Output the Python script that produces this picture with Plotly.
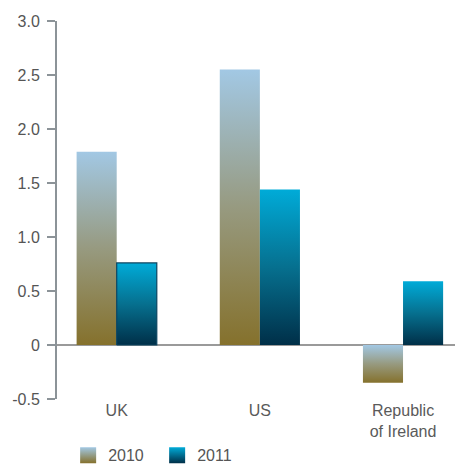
import plotly.graph_objects as go

categories = ["UK", "US", "Republic<br>of Ireland"]
series_names = ["2010", "2011"]
values_2010 = [1.79, 2.55, -0.35]
values_2011 = [0.76, 1.44, 0.59]
y_ticks = [-0.5, 0, 0.5, 1.0, 1.5, 2.0, 2.5, 3.0]
y_tick_labels = ["-0.5", "0", "0.5", "1.0", "1.5", "2.0", "2.5", "3.0"]

series_values = [values_2010, values_2011]
gradients = [
    [[0, "#85712c"], [0.5, "#979a80"], [1, "#a2c8e4"]],
    [[0, "#002f48"], [0.5, "#06708f"], [1, "#00abd8"]],
]
offsets = [-0.14, 0.14]
bar_w = 0.28

fig = go.Figure()
for s, (name, vals) in enumerate(zip(series_names, series_values)):
    for i, v in enumerate(vals):
        xc = i + offsets[s]
        x0, x1 = xc - bar_w / 2, xc + bar_w / 2
        outlined = (s == 1 and i == 0)
        fig.add_trace(go.Scatter(
            x=[x0, x1, x1, x0, x0],
            y=[0, 0, v, v, 0],
            mode="lines",
            fill="toself",
            fillgradient=dict(type="vertical", colorscale=gradients[s]),
            line=dict(width=1.2 if outlined else 0, color="#0b4460"),
            name=name,
            legendgroup=name,
            showlegend=False,
            hoverinfo="skip",
        ))
    # legend entry
    fig.add_trace(go.Scatter(
        x=[None], y=[None], mode="markers", name=name, legendgroup=name,
        marker=dict(symbol="square", size=18, color=gradients[s][2][1],
                    gradient=dict(type="vertical", color=gradients[s][0][1]),
                    line=dict(width=0)),
        showlegend=True,
    ))

fig.update_layout(
    width=455, height=464,
    margin=dict(l=57, r=0, t=21, b=65, autoexpand=False),
    plot_bgcolor="white", paper_bgcolor="white",
    font=dict(family="Liberation Sans, Arial, sans-serif", size=16, color="#555555"),
    showlegend=True,
    legend=dict(orientation="h", x=0.028, y=-0.104, xanchor="left", yanchor="top",
                font=dict(size=16, color="#555555"), entrywidth=44,
                itemsizing="trace"),
    xaxis=dict(range=[-0.417, 2.363], tickvals=[0, 1, 2], ticktext=categories,
               showgrid=False, zeroline=False, showline=False, ticks="",
               tickfont=dict(size=16, color="#5a5a5a")),
    yaxis=dict(range=[-0.5, 3.0], tickvals=y_ticks, ticktext=y_tick_labels,
               showgrid=False, zeroline=True, zerolinecolor="#9a9a9a", zerolinewidth=2,
               showline=True, linecolor="#8c9398", linewidth=2,
               ticks="outside", ticklen=8, tickwidth=2, tickcolor="#8c9398",
               ticklabelstandoff=4,
               tickfont=dict(size=16, color="#555555")),
)

fig.write_html("out.html")
